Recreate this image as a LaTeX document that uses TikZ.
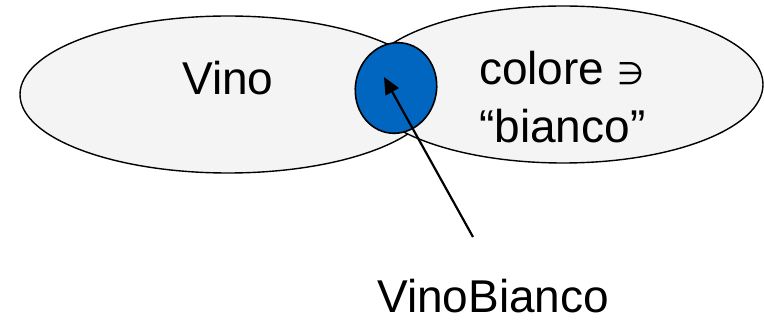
\documentclass[tikz,border=0pt]{standalone}
\usepackage{fontspec}
\setmainfont{Liberation Sans}
\newfontfamily\symfont{DejaVu Sans}
\usetikzlibrary{arrows.meta}
\definecolor{setfill}{HTML}{F4F4F4}
\definecolor{interblue}{HTML}{0066C0}
\begin{document}
\begin{tikzpicture}[x=1pt,y=-1pt,
  setshape/.style={draw=black,line width=1.4pt,fill=setfill},
  interset/.style={draw=black,line width=1.6pt,fill=interblue},
  pointer/.style={draw=black,line width=2.2pt,-{Triangle[length=17pt,width=15pt]}},
  bigtext/.style={inner sep=0pt,anchor=base west,font=\fontsize{46}{58}\selectfont}]
  \useasboundingbox[fill=white] (0,0) rectangle (764,320);
  % the two sets
  \path[setshape] (228,94.5) ellipse [x radius=208,y radius=78.5];
  \path[setshape] (563,84.5) ellipse [x radius=200,y radius=78.5];
  % their intersection
  \path[interset] (396,88) ellipse [x radius=40.5,y radius=45.5,rotate=-12];
  % labels
  \node[bigtext] (vino) at (182,95) {Vino};
  \node[bigtext] (colore) at (479,85) {colore {\symfont\fontsize{31}{36}\selectfont ∋}};
  \node[bigtext] (bianco) at (479,143) {“bianco”};
  \node[bigtext] (vinobianco) at (377,313) {VinoBianco};
  % pointer from the label to the intersection
  \coordinate (tail) at (473,237);
  \coordinate (tip) at (384,77);
  \draw[pointer] (tail) -- (tip);
\end{tikzpicture}
\end{document}
